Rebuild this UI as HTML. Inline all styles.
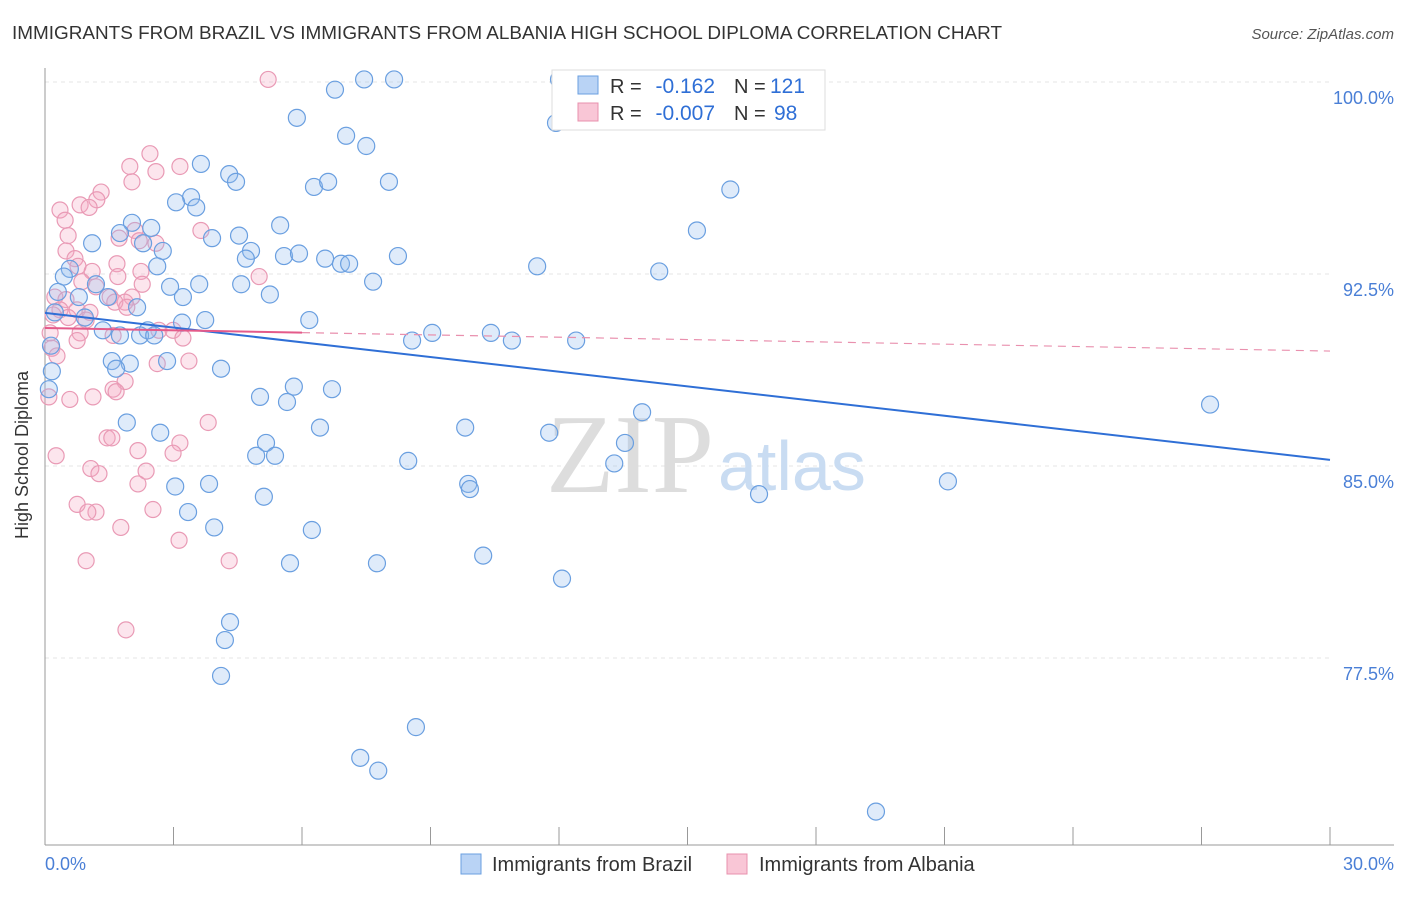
<!DOCTYPE html>
<html><head><meta charset="utf-8"><style>
body{margin:0;background:#fff;font-family:"Liberation Sans",sans-serif;}
</style></head><body>
<svg id="chart" width="1406" height="892" xmlns="http://www.w3.org/2000/svg">
<text x="12" y="39" font-size="18" fill="#333" textLength="990" lengthAdjust="spacingAndGlyphs">IMMIGRANTS FROM BRAZIL VS IMMIGRANTS FROM ALBANIA HIGH SCHOOL DIPLOMA CORRELATION CHART</text>
<text x="1394" y="39" font-size="15" fill="#555" text-anchor="end" font-style="italic">Source: ZipAtlas.com</text>
<g id="grid"></g>
<text x="714" y="492" font-size="112" fill="#ddd" text-anchor="end" font-family="Liberation Serif,serif">ZIP</text>
<text x="718" y="490" font-size="70" fill="#c9dcf2">atlas</text>
<g id="pts"></g>
<g id="trends"></g>
<text x="28" y="455" font-size="18" fill="#333" text-anchor="middle" transform="rotate(-90 28 455)">High School Diploma</text>
<text x="45" y="870" font-size="18" fill="#4a7fd6">0.0%</text>
<text x="1394" y="870" font-size="18" fill="#4a7fd6" text-anchor="end">30.0%</text>
<g>
<rect x="552" y="70" width="273" height="60" fill="#fff" stroke="#ddd"/>
<rect x="578" y="76" width="20" height="18" fill="#b9d3f5" stroke="#6a9fe0"/>
<rect x="578" y="103" width="20" height="18" fill="#f9c6d6" stroke="#e890ad"/>
<text x="610" y="93" font-size="20" fill="#333">R =</text>
<text x="715" y="93" font-size="21" fill="#2f6fd6" text-anchor="end">-0.162</text>
<text x="734" y="93" font-size="20" fill="#333">N =</text>
<text x="770" y="93" font-size="21" fill="#2f6fd6">121</text>
<text x="610" y="120" font-size="20" fill="#333">R =</text>
<text x="715" y="120" font-size="21" fill="#2f6fd6" text-anchor="end">-0.007</text>
<text x="734" y="120" font-size="20" fill="#333">N =</text>
<text x="774" y="120" font-size="21" fill="#2f6fd6">98</text>
</g>
<g>
<rect x="461" y="854" width="20" height="20" fill="#b9d3f5" stroke="#6a9fe0"/>
<text x="492" y="871" font-size="20" fill="#333">Immigrants from Brazil</text></g>
<g>
<rect x="727" y="854" width="20" height="20" fill="#f9c6d6" stroke="#e890ad"/>
<text x="759" y="871" font-size="20" fill="#333">Immigrants from Albania</text></g>
</svg>
<script>
const yTicks=[100,92.5,85,77.5];
const xTicks=[0,3,6,9,12,15,18,21,24,27,30];
const brazil=[[12.0,100.1],[7.45,100.1],[8.15,100.1],[6.77,99.7],[5.88,98.6],[7.03,97.9],[7.5,97.5],[11.93,98.4],[3.64,96.8],[4.3,96.4],[4.46,96.1],[6.28,95.9],[6.61,96.1],[8.03,96.1],[16.0,95.8],[3.41,95.5],[3.06,95.3],[3.53,95.1],[2.03,94.5],[2.48,94.3],[5.49,94.4],[1.75,94.1],[4.53,94.0],[3.9,93.9],[1.1,93.7],[2.29,93.7],[2.75,93.4],[4.81,93.4],[15.22,94.2],[4.69,93.1],[5.58,93.2],[5.93,93.3],[8.24,93.2],[6.54,93.1],[6.91,92.9],[7.1,92.9],[11.49,92.8],[14.34,92.6],[2.62,92.8],[0.58,92.7],[0.44,92.4],[1.19,92.1],[3.6,92.1],[4.58,92.1],[7.66,92.2],[2.92,92.0],[3.22,91.6],[5.25,91.7],[0.3,91.8],[0.79,91.6],[1.47,91.6],[2.15,91.2],[0.23,91.0],[0.93,90.8],[3.2,90.6],[3.74,90.7],[6.17,90.7],[1.35,90.3],[1.75,90.1],[2.4,90.3],[2.22,90.1],[2.55,90.1],[9.04,90.2],[10.41,90.2],[10.9,89.9],[12.4,89.9],[8.57,89.9],[0.14,89.7],[0.16,88.7],[1.56,89.1],[1.98,89.0],[2.85,89.1],[4.11,88.8],[1.66,88.8],[5.81,88.1],[6.7,88.0],[5.02,87.7],[5.65,87.5],[13.94,87.1],[27.2,87.4],[1.91,86.7],[6.42,86.5],[9.81,86.5],[11.77,86.3],[2.69,86.3],[5.16,85.9],[13.54,85.9],[4.93,85.4],[5.37,85.4],[8.48,85.2],[13.29,85.1],[3.04,84.2],[3.83,84.3],[9.88,84.3],[9.92,84.1],[21.08,84.4],[16.67,83.9],[5.11,83.8],[3.34,83.2],[3.95,82.6],[6.23,82.5],[10.23,81.5],[5.72,81.2],[7.75,81.2],[12.07,80.6],[4.32,78.9],[4.2,78.2],[4.11,76.8],[8.66,74.8],[7.36,73.6],[7.78,73.1],[19.4,71.5],[0.09,88.0]];
const albania=[[5.21,100.1],[2.45,97.2],[3.15,96.7],[1.98,96.7],[2.59,96.5],[2.03,96.1],[1.31,95.7],[1.21,95.4],[0.82,95.2],[1.03,95.1],[0.35,95.0],[0.47,94.6],[2.1,94.2],[3.64,94.2],[0.54,94.0],[1.73,93.9],[2.2,93.8],[2.59,93.7],[0.49,93.4],[0.7,93.1],[1.68,92.9],[0.77,92.8],[2.24,92.6],[5.0,92.4],[1.1,92.6],[1.7,92.4],[0.86,92.2],[2.27,92.1],[1.19,92.0],[0.23,91.6],[0.49,91.5],[1.52,91.6],[2.03,91.6],[1.87,91.4],[0.35,91.1],[0.75,91.1],[1.63,91.4],[1.91,91.2],[1.05,91.0],[0.19,90.9],[0.54,90.8],[0.96,90.7],[0.12,90.2],[0.82,90.2],[1.59,90.1],[2.66,90.3],[2.99,90.3],[0.75,89.9],[3.22,90.0],[0.16,89.6],[0.28,89.3],[2.62,89.0],[3.36,89.1],[1.87,88.3],[1.59,88.0],[1.66,87.9],[0.09,87.7],[0.58,87.6],[1.12,87.7],[3.81,86.7],[1.45,86.1],[1.56,86.1],[3.15,85.9],[2.17,85.6],[2.99,85.5],[0.26,85.4],[1.07,84.9],[1.26,84.7],[2.36,84.8],[2.17,84.3],[0.75,83.5],[1.19,83.2],[1.0,83.2],[2.52,83.3],[1.77,82.6],[3.13,82.1],[0.96,81.3],[4.3,81.3],[1.89,78.6]];
const brazilTrend=[90.98,85.24];
const albaniaTrend=[90.39,89.49];
const albaniaSolidEnd=6;
const NS="http://www.w3.org/2000/svg";
const X=v=>45+v/30*1285;
const Y=v=>82+(100-v)/7.5*192;
function mk(t,a,p){const e=document.createElementNS(NS,t);for(const k in a)e.setAttribute(k,a[k]);p.appendChild(e);return e;}
const grid=document.getElementById('grid');
yTicks.forEach(t=>{
 const l=mk('line',{x1:45,x2:1330,y1:Y(t),y2:Y(t),stroke:'#e4e4e4','stroke-dasharray':'4,4'},grid);
 
 
 const tx=mk('text',{x:1394,y:Y(t)+22,'font-size':18,fill:'#4a7fd6','text-anchor':'end'},grid);
 tx.textContent=t.toFixed(1)+'%';
 
 
});
const ax=mk('line',{x1:45,x2:45,y1:68,y2:845,stroke:'#999'},grid);


const bx=mk('line',{x1:45,x2:1394,y1:845,y2:845,stroke:'#999'},grid);


xTicks.forEach(t=>{
 const l=mk('line',{x1:X(t),x2:X(t),y1:827,y2:845,stroke:'#999'},grid);
 
 
});
const pts=document.getElementById('pts');
albania.forEach(d=>{
 const c=mk('circle',{cx:X(d[0]),cy:Y(d[1]),r:8,fill:'rgba(245,170,195,0.3)',stroke:'#e99ab5','stroke-width':1.2},pts);
 
 
});
brazil.forEach(d=>{
 const c=mk('circle',{cx:X(d[0]),cy:Y(d[1]),r:8.5,fill:'rgba(150,190,240,0.3)',stroke:'#6a9fe0','stroke-width':1.2},pts);
 
 
});
const tr=document.getElementById('trends');
const bt=mk('line',{x1:X(0),y1:Y(brazilTrend[0]),x2:X(30),y2:Y(brazilTrend[1]),stroke:'#2f6fd6','stroke-width':2},tr);


const pm=albaniaTrend[0]+(albaniaTrend[1]-albaniaTrend[0])*albaniaSolidEnd/30;
const ps=mk('line',{x1:X(0),y1:Y(albaniaTrend[0]),x2:X(albaniaSolidEnd),y2:Y(pm),stroke:'#e45a8a','stroke-width':2},tr);


const pd=mk('line',{x1:X(albaniaSolidEnd),y1:Y(pm),x2:X(30),y2:Y(albaniaTrend[1]),stroke:'#e990ae','stroke-width':1.2,'stroke-dasharray':'8,6'},tr);


</script>
</body></html>
